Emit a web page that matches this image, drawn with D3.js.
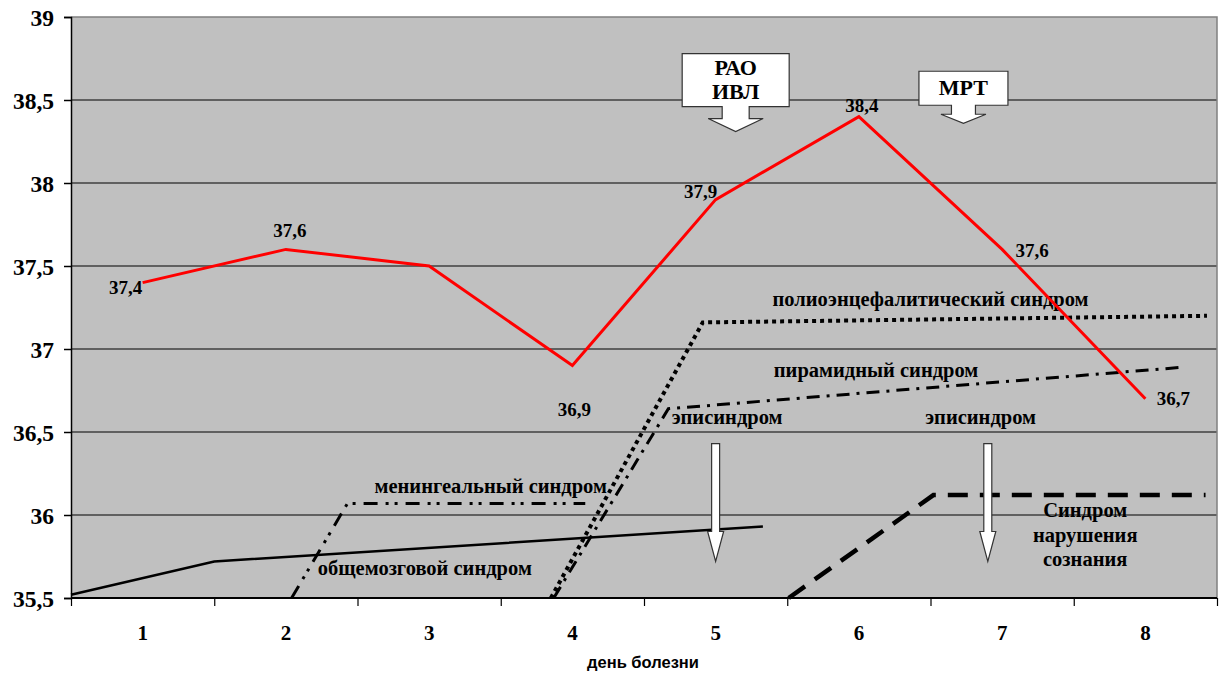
<!DOCTYPE html>
<html lang="ru">
<head>
  <meta charset="UTF-8">
  <title>Температура по дням болезни</title>
  <style>
  body { margin: 0; background: #fff; }
  svg { display: block; }
  .tick text { font-family: "Liberation Serif", "Times New Roman", serif; font-weight: bold; fill: #000; }
  .lbl { font-family: "Liberation Serif", "Times New Roman", serif; font-weight: bold; fill: #000; }
  </style>
</head>
<body>
  <svg></svg>

  <script src="https://d3js.org/d3.v7.min.js"></script>
  <script>
  // days of illness and body temperature
  var days = [1, 2, 3, 4, 5, 6, 7, 8];
  var temps = [37.4, 37.6, 37.5, 36.9, 37.9, 38.4, 37.6, 36.7];
  var tempLabels = ["37,4", "37,6", null, "36,9", "37,9", "38,4", "37,6", "36,7"];
  var yTicks = [35.5, 36, 36.5, 37, 37.5, 38, 38.5, 39];

  // syndrome lines: [day, level]
  var obshchemozg = [[0.5, 35.52], [1.5, 35.72], [5.33, 35.93]];
  var meningeal = [[2.04, 35.5], [2.43, 36.07], [4.09, 36.07]];
  var polio = [[3.85, 35.5], [4.91, 37.16], [8.43, 37.2]];
  var pyramid = [[3.87, 35.5], [4.67, 36.64], [8.26, 36.89]];
  var soznanie = [[5.51, 35.5], [6.52, 36.12], [8.42, 36.12]];

  // syndrome captions: text, day, level
  var captions = [
    ["полиоэнцефалитический синдром", 6.5, 37.26],
    ["пирамидный синдром", 6.12, 36.83],
    ["эписиндром", 5.08, 36.55],
    ["эписиндром", 6.85, 36.55],
    ["менингеальный синдром", 3.43, 36.13],
    ["общемозговой синдром", 2.97, 35.64],
    ["Синдром", 7.58, 35.99],
    ["нарушения", 7.58, 35.84],
    ["сознания", 7.58, 35.69]
  ];

  // episyndrome arrows: day, from level, to level
  var episodeArrows = [[5.0, 36.43, 35.72], [6.9, 36.43, 35.72]];
  // callouts: lines, day, level of arrow tip
  var calloutText = [["РАО", "ИВЛ"], ["МРТ"]];
  var calloutDay = [5.14, 6.73];
  var calloutTip = [38.31, 38.36];

  var width = 1225;
  var height = 675;
  var plotL = 71, plotR = 1217, plotT = 17, plotB = 598;

  var x = d3.scaleLinear().domain([0.5, 8.5]).range([plotL, plotR]);
  var y = d3.scaleLinear().domain([35.5, 39]).range([plotB, plotT]);

  var svg = d3.select("svg").attr("width", width).attr("height", height);

  svg.append("rect")
    .attr("x", plotL).attr("y", plotT)
    .attr("width", plotR - plotL).attr("height", plotB - plotT)
    .attr("fill", "#c0c0c0");

  // grid
  svg.append("g").selectAll("line")
    .data(yTicks.slice(1, -1))
    .enter().append("line")
      .attr("x1", plotL).attr("x2", plotR)
      .attr("y1", d => y(d)).attr("y2", d => y(d))
      .attr("stroke", "#000").attr("stroke-width", 1);

  // frame top and right
  svg.append("path")
    .attr("d", "M" + plotL + "," + y(39) + "H" + plotR + "V" + plotB)
    .attr("fill", "none").attr("stroke", "#808080").attr("stroke-width", 1.5);

  // y axis
  var yAxis = svg.append("g")
    .attr("transform", "translate(" + plotL + ",0)")
    .call(d3.axisLeft(y).tickValues(yTicks).tickSize(7).tickPadding(10)
      .tickFormat(d => String(d).replace(".", ",")));
  yAxis.select(".domain").attr("stroke-width", 1.5);
  yAxis.selectAll(".tick line").attr("stroke-width", 1.5);
  yAxis.selectAll(".tick text").style("font-size", "23.5px").attr("dy", "0.34em");

  // x axis: ticks between days, labels on days
  var xAxis = svg.append("g")
    .attr("transform", "translate(0," + plotB + ")")
    .call(d3.axisBottom(x).tickValues(d3.range(0.5, 8.6, 1)).tickSize(8).tickFormat(""));
  xAxis.select(".domain").attr("stroke-width", 2).attr("d", "M" + plotL + ",0H" + plotR);
  xAxis.selectAll(".tick line").attr("stroke-width", 1.2);

  svg.append("g").selectAll("text")
    .data(days)
    .enter().append("text")
      .attr("class", "lbl")
      .attr("x", d => x(d)).attr("y", 640)
      .attr("text-anchor", "middle")
      .style("font-size", "21px")
      .text(d => d);

  svg.append("text")
    .attr("x", 643).attr("y", 668)
    .attr("text-anchor", "middle")
    .style("font-family", "'Liberation Sans', Arial, sans-serif")
    .style("font-weight", "bold")
    .style("font-size", "16.5px")
    .text("день болезни");

  // syndrome lines
  var line = d3.line().x(d => x(d[0])).y(d => y(d[1]));
  var styles = [
    [obshchemozg, null, 2.5],
    [meningeal, "14,8,3,6,3,8", 3],
    [polio, "4,4", 4],
    [pyramid, "13,7,3,7", 3],
    [soznanie, "20,12", 4.5]
  ];
  svg.append("g").selectAll("path")
    .data(styles)
    .enter().append("path")
      .attr("d", d => line(d[0]))
      .attr("fill", "none")
      .attr("stroke", "#000")
      .attr("stroke-width", d => d[2])
      .attr("stroke-dasharray", d => d[1]);

  // captions
  svg.append("g").selectAll("text")
    .data(captions)
    .enter().append("text")
      .attr("class", "lbl")
      .attr("x", d => x(d[1])).attr("y", d => y(d[2]))
      .attr("text-anchor", "middle")
      .style("font-size", "20.5px")
      .text(d => d[0]);

  // temperature line
  svg.append("path")
    .datum(days.map((d, i) => [d, temps[i]]))
    .attr("d", line)
    .attr("fill", "none")
    .attr("stroke", "#ff0000")
    .attr("stroke-width", 3);

  var labelOffsets = [[-17, 11], [4, -12], [0, 0], [2, 50], [-15, -2], [3, -5], [30, 8], [28, 6]];
  svg.append("g").selectAll("text")
    .data(days.filter((d, i) => tempLabels[i]))
    .enter().append("text")
      .attr("class", "lbl")
      .attr("x", d => x(d) + labelOffsets[d - 1][0])
      .attr("y", d => y(temps[d - 1]) + labelOffsets[d - 1][1])
      .attr("text-anchor", "middle")
      .style("font-size", "19px")
      .text(d => tempLabels[d - 1]);

  // episyndrome hollow arrows
  svg.append("g").selectAll("path")
    .data(episodeArrows)
    .enter().append("path")
      .attr("d", function(d) {
        var cx = x(d[0]), y0 = y(d[1]), y1 = y(d[2]);
        return "M" + (cx - 4) + "," + y0 + "H" + (cx + 4) + "V" + (y1 - 30) +
          "H" + (cx + 8) + "L" + cx + "," + y1 + "L" + (cx - 8) + "," + (y1 - 30) +
          "H" + (cx - 4) + "Z";
      })
      .attr("fill", "#fff")
      .attr("stroke", "#333")
      .attr("stroke-width", 1.2);

  // callouts with down arrows
  var boxW = [107, 89], boxH = [53, 34], neckW = [27, 24], neckH = [12, 9], headW = [55, 45], headH = [13, 9];
  calloutText.forEach(function(lines, i) {
    var cx = x(calloutDay[i]), tip = y(calloutTip[i]);
    var hb = tip - headH[i], nb = hb, bb = nb - neckH[i], bt = bb - boxH[i];
    var p = "M" + (cx - boxW[i] / 2) + "," + bt + "H" + (cx + boxW[i] / 2) + "V" + bb +
      "H" + (cx + neckW[i] / 2) + "V" + nb + "H" + (cx + headW[i] / 2) + "L" + cx + "," + tip +
      "L" + (cx - headW[i] / 2) + "," + hb + "H" + (cx - neckW[i] / 2) + "V" + bb +
      "H" + (cx - boxW[i] / 2) + "Z";
    svg.append("path").attr("d", p)
      .attr("fill", "#fff").attr("stroke", "#333").attr("stroke-width", 1.2);
    lines.forEach(function(t, j) {
      svg.append("text")
        .attr("class", "lbl")
        .attr("x", cx)
        .attr("y", bt + (lines.length === 1 ? 24 : 21 + j * 24))
        .attr("text-anchor", "middle")
        .style("font-size", "22px")
        .text(t);
    });
  });
  </script>
</body>
</html>
